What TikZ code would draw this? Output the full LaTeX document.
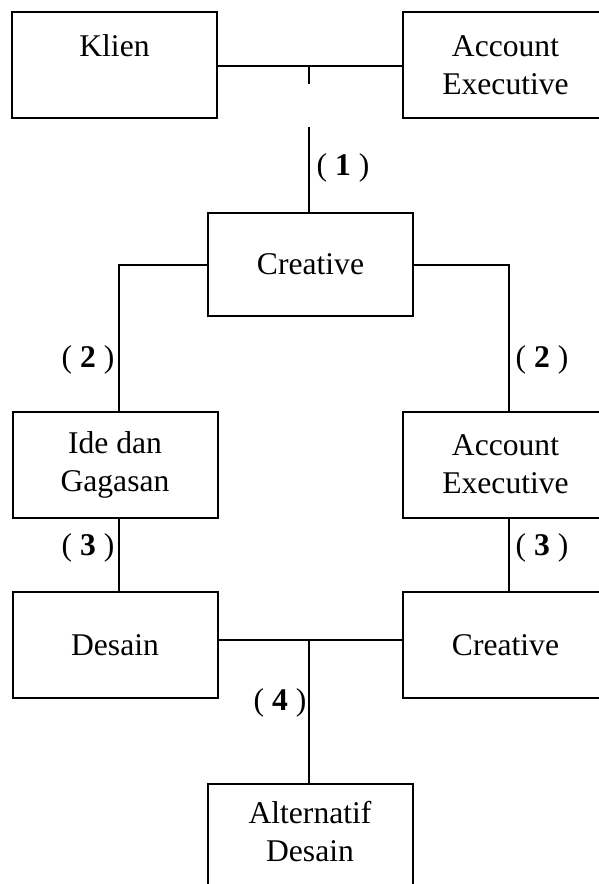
\documentclass[tikz,border=0pt]{standalone}
\usepackage{fontspec}
\setmainfont{Liberation Serif}
\usetikzlibrary{calc}
\begin{document}
\begin{tikzpicture}[x=0.5pt,y=-0.5pt,
  box/.style={draw,line width=1pt,minimum width=102.5pt,minimum height=53pt,inner sep=0pt,align=center,
    font=\fontsize{15.8}{19}\selectfont},
  conn/.style={line width=1pt},
  num/.style={font=\fontsize{15.8}{18}\selectfont,inner sep=0pt}]
\clip (0,0) rectangle (599,884);
\useasboundingbox (0,0) rectangle (599,884);
% boxes
\node[box] (klien) at (114.5,65) {Klien\\\phantom{X}};
\node[box] (ae1) at (505.5,65) {Account\\Executive};
\node[box,minimum height=51.5pt] (cr1) at (310.5,264.5) {Creative};
\node[box] (ide) at (115,464.5) {Ide dan\\Gagasan};
\node[box] (ae2) at (505.5,464.5) {Account\\Executive};
\node[box] (des) at (115,645) {Desain};
\node[box] (cr2) at (505.5,645) {Creative};
\node[box] (alt) at (310,837) {Alternatif\\Desain\rule[-6pt]{0pt}{0pt}};
% connectors
\coordinate (j1) at (309,66);
\coordinate (t1) at (309,84);
\coordinate (t2) at (309,127);
\draw[conn] (klien.east |- j1) -- (ae1.west |- j1);
\draw[conn] (j1) -- (t1);
\draw[conn] (t2) -- (t2 |- cr1.north);
\coordinate (lx) at (119,0);
\coordinate (rx) at (509,0);
\draw[conn] (cr1.west) -| (lx |- ide.north);
\draw[conn] (cr1.east) -| (rx |- ae2.north);
\draw[conn] (lx |- ide.south) -- (lx |- des.north);
\draw[conn] (rx |- ae2.south) -- (rx |- cr2.north);
\coordinate (j2) at (309,640);
\draw[conn] (des.east |- j2) -- (cr2.west |- j2);
\draw[conn] (j2) -- (j2 |- alt.north);
% labels
\node[num] (n1) at (343,168) {( \textbf{1} )};
\node[num] (n2l) at (88,360) {( \textbf{2} )};
\node[num] (n2r) at (542,360) {( \textbf{2} )};
\node[num] (n3l) at (88,548) {( \textbf{3} )};
\node[num] (n3r) at (542,548) {( \textbf{3} )};
\node[num] (n4) at (280,703) {( \textbf{4} )};
\end{tikzpicture}
\end{document}
